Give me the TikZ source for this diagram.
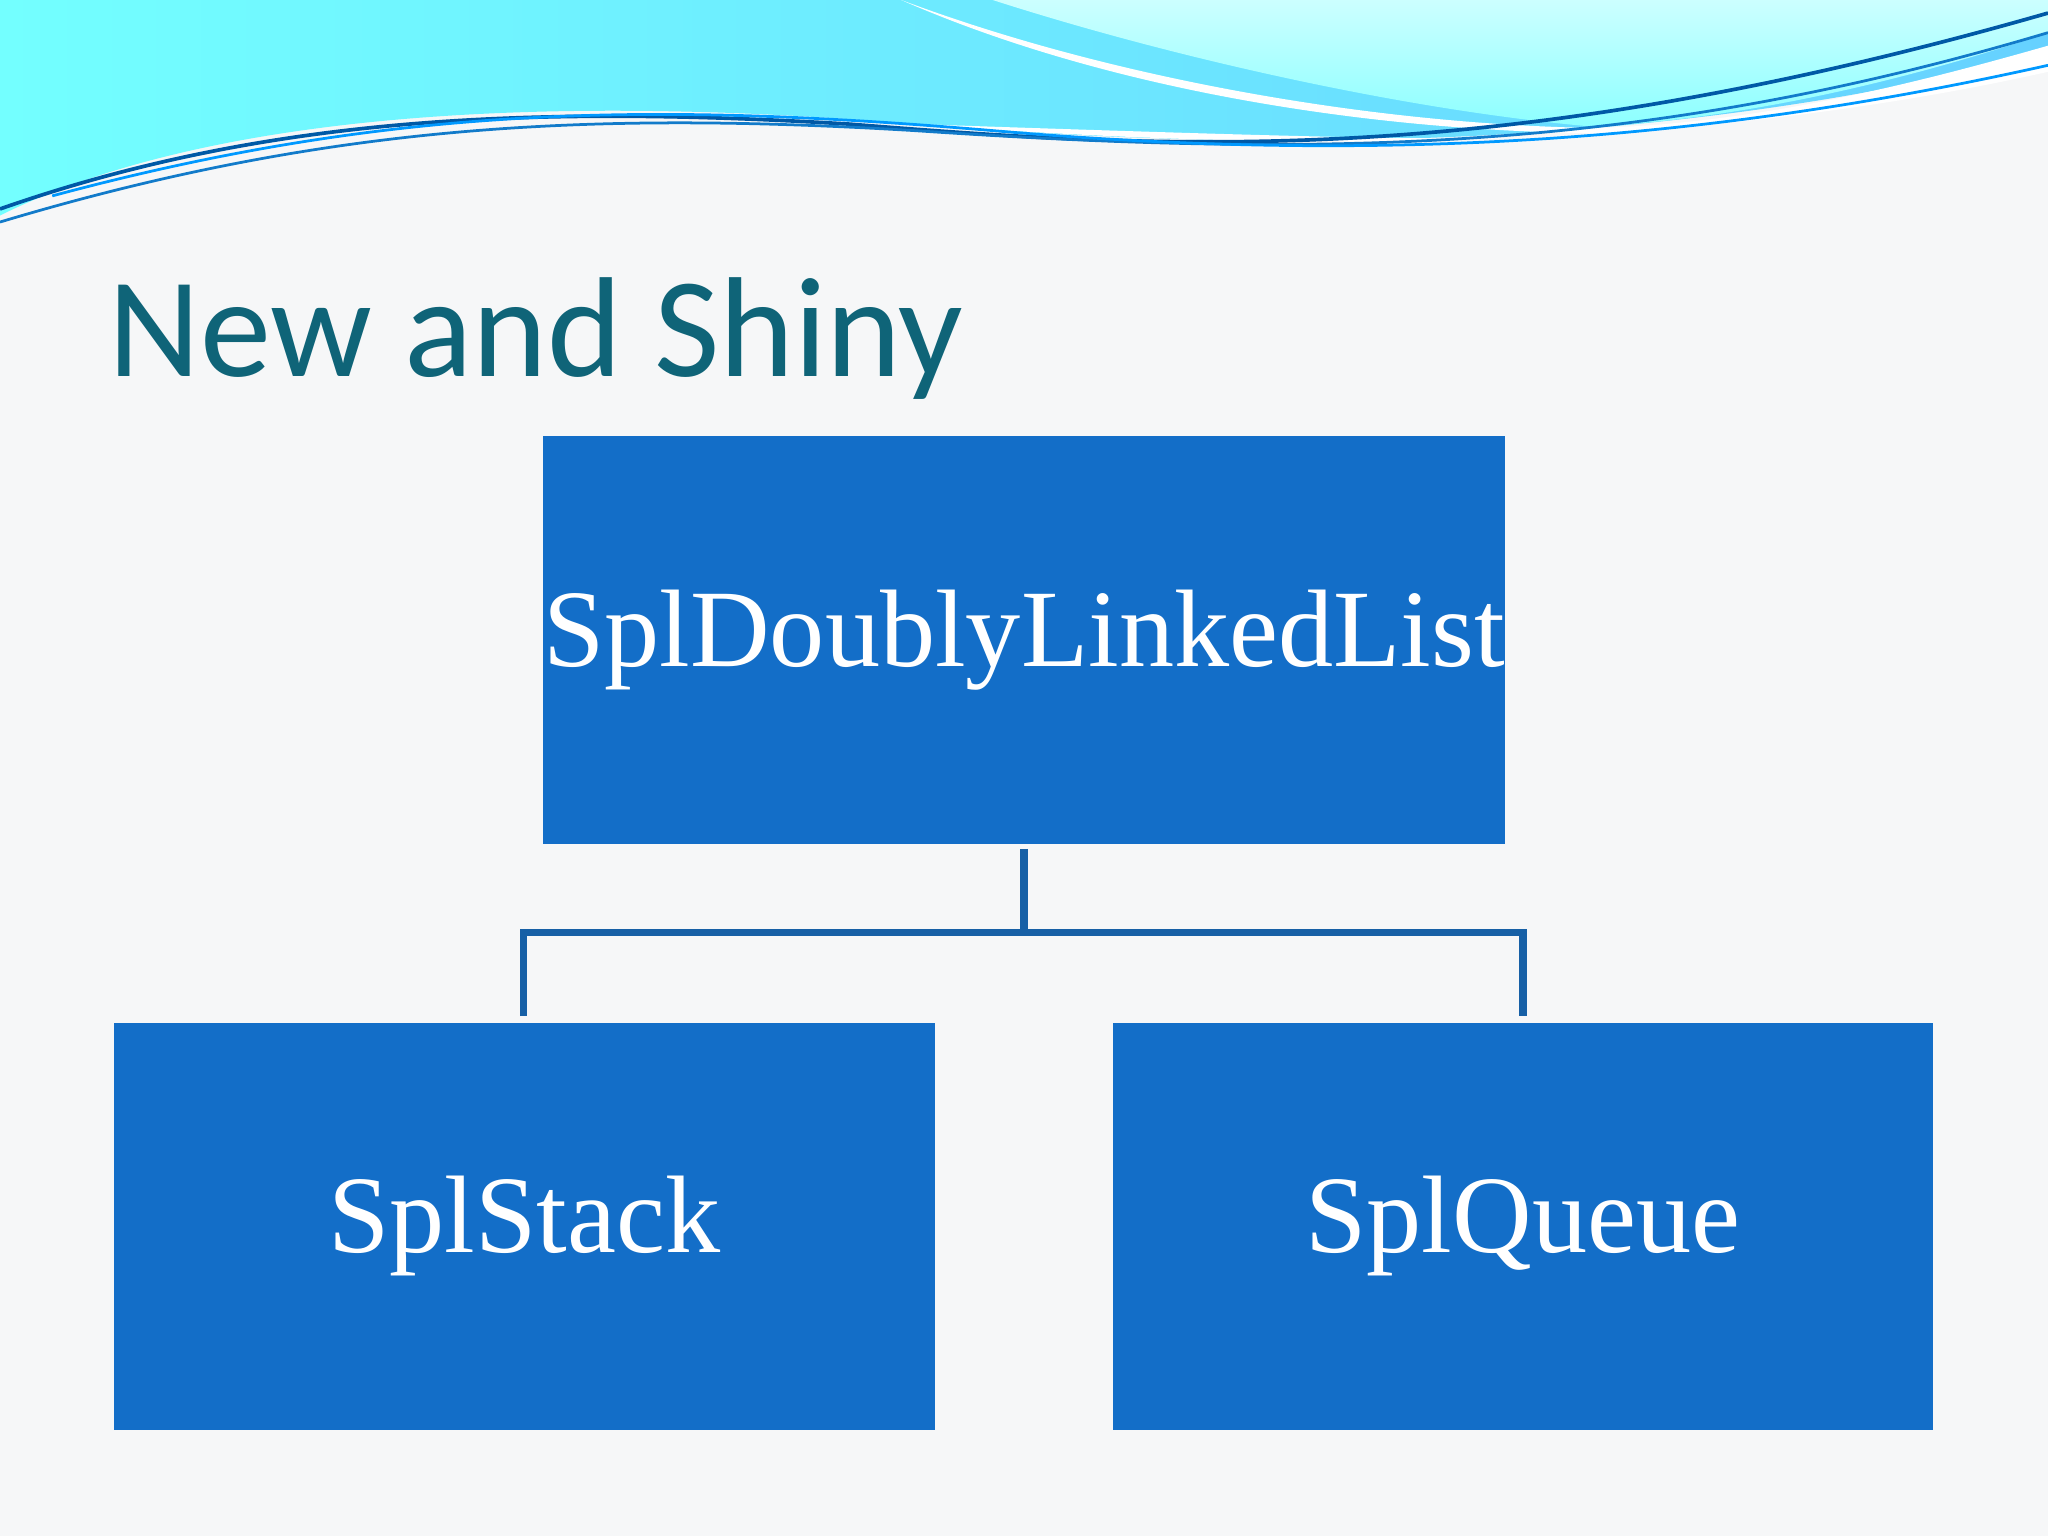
\documentclass[tikz,border=0pt]{standalone}
\usepackage{fontspec}
\setmainfont{Liberation Serif}
\newfontfamily\titlefont{Carlito}
\definecolor{boxblue}{HTML}{136EC8}
\definecolor{linkblue}{HTML}{1760A6}
\definecolor{titleteal}{HTML}{0F6478}
\definecolor{bg}{HTML}{F6F7F8}
\usetikzlibrary{positioning}
\begin{document}
\begin{tikzpicture}[x=0.01cm,y=-0.01cm,
  box/.style={draw=none,fill=boxblue,text=white,minimum width=6.28cm,minimum height=3.12cm,inner sep=0pt,font=\fontsize{24}{28}\selectfont},
  link/.style={draw=linkblue,line width=1.6pt}]
\fill[bg] (0,0) rectangle (1568,1176);
\useasboundingbox (0,0) rectangle (1568,1176);
% waves
\shade[left color=cyan!55!white, right color=blue!30!cyan!60!white]
  (0,0) -- (1568,0) -- (1568,40) .. controls (1300,110) and (1000,120) .. (700,95)
  .. controls (400,70) and (150,90) .. (0,165) -- cycle;
\fill[white] (690,0) .. controls (850,60) and (1050,95) .. (1220,98)
  .. controls (1350,95) and (1480,60) .. (1568,35) -- (1568,55)
  .. controls (1300,115) and (1000,118) .. (700,95) .. controls (1000,105) and (1150,110) .. (1220,102)
  .. controls (1050,100) and (850,70) .. (690,0) -- cycle;
\shade[top color=cyan!20!white,bottom color=cyan!45!white] (760,0) .. controls (900,45) and (1080,85) .. (1220,97)
  .. controls (1350,90) and (1480,55) .. (1568,25) -- (1568,0) -- cycle;
\draw[teal!70!blue,line width=0.8pt] (0,160) .. controls (200,90) and (400,80) .. (650,95) .. controls (900,115) and (1150,130) .. (1568,10);
\draw[cyan!60!blue,line width=0.6pt] (0,170) .. controls (250,95) and (450,85) .. (700,100) .. controls (1000,120) and (1250,120) .. (1568,25);
\draw[blue!40!cyan,line width=0.6pt] (40,150) .. controls (300,80) and (500,78) .. (760,100) .. controls (1050,125) and (1300,110) .. (1568,50);
% title
\node[anchor=base west,text=titleteal,inner sep=0pt,font=\titlefont\fontsize{31}{36}\selectfont] (title) at (82,288) {New and Shiny};
% boxes
\node[box] (top) at (784,490) {SplDoublyLinkedList};
\node[box] (left) at (401.5,939) {SplStack};
\node[box] (right) at (1166,939) {SplQueue};
\coordinate (j) at (784,714);
\draw[link] (784,650) -- (j);
\draw[link] (401,778) -- (401,714) -- (1166,714) -- (1166,778);
\end{tikzpicture}
\end{document}
